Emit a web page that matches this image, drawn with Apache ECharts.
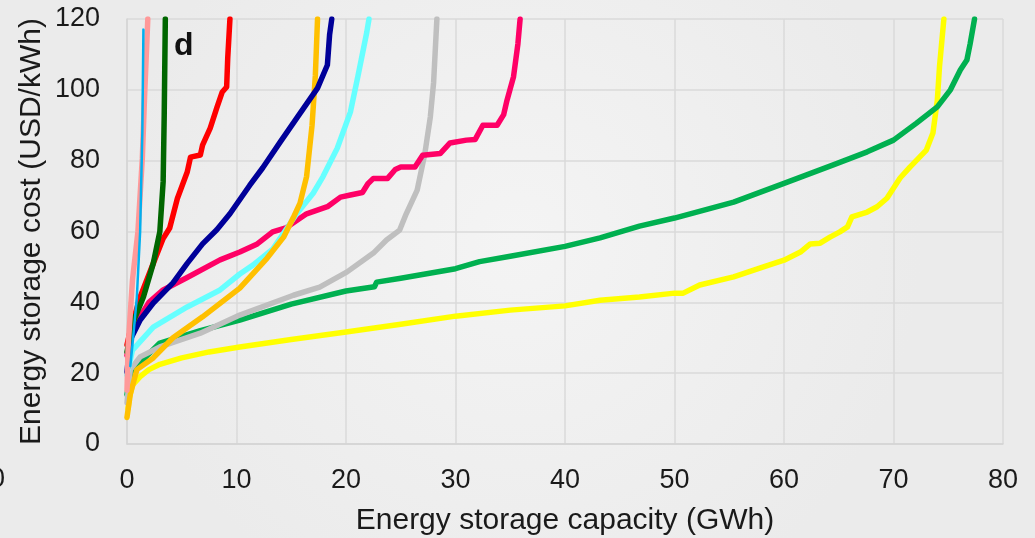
<!DOCTYPE html>
<html>
<head>
<meta charset="utf-8">
<script src="https://cdn.jsdelivr.net/npm/echarts@6/dist/echarts.min.js"></script>
<style>
  html, body { margin: 0; padding: 0; background: #f0f0f0; }
  #chart { width: 1035px; height: 538px; }
</style>
</head>
<body>
<div id="chart"></div>
<script>
// Cumulative storage supply curves: capacity (GWh) vs. cost (USD/kWh)
const xTicks = [0, 10, 20, 30, 40, 50, 60, 70, 80];
const yTicks = [0, 20, 40, 60, 80, 100, 120];

const lightBlue = [[0.3,22],[0.5,28],[0.9,41.5],[1.2,60],[1.4,88],[1.5,117]];
const pink = [[0,15.2],[0.1,27.4],[0.5,46.3],[1.0,60],[1.4,80.7],[1.6,97.7],[1.9,120]];
const darkGreen = [[0,26],[0.5,34],[1.5,41.5],[2.4,51],[3,60],[3.3,74],[3.4,93],[3.5,120]];
const red = [[0,28],[0.3,32],[1.2,41.5],[2.4,51],[3.3,58],[3.9,61],[4.6,69.3],[5.5,76.8],[5.8,81],
  [6.7,81.6],[6.9,84.4],[7.6,89.2],[8.2,94.9],[8.7,99.4],[9.1,100.8],[9.2,109],[9.4,120]];
const navy = [[0,20.3],[0.3,29.4],[1.2,35],[2.4,39.8],[4.2,45.5],[5.5,51],[6.9,56.5],[8.2,60.5],
  [9.4,65],[11.2,73],[12.4,78],[14,85.3],[15.5,92],[17.4,100.5],[18.3,107],[18.5,115.5],[18.7,120]];
const orange = [[0,7.5],[0.3,14],[0.9,21],[2.4,24.3],[4.2,30],[6.9,35.9],[10.3,44],[12.8,52.5],
  [14.3,58.4],[15.2,64],[15.8,68],[16.4,75.5],[16.9,90],[17.2,104],[17.4,120]];
const cyan = [[0,19.5],[0.5,26.5],[2.4,33],[5.5,38.7],[8.5,43.5],[10.3,48],[11.5,50.5],[13.3,55],
  [15.5,65],[17,70.8],[17.9,75.5],[19.2,83.5],[20.4,93.7],[21.1,104],[21.9,116.3],[22.1,120]];
const gray = [[0,11.6],[0.3,21],[1.2,24.6],[3,27.4],[6.7,31.3],[10.3,36.4],[15.2,42],[17.6,44.3],
  [20.1,48.6],[22.5,53.9],[23.7,57.6],[24.9,60.4],[25.5,65],[26.5,71.7],[27.2,82],[27.7,92.3],
  [28,102],[28.3,120]];
const crimson = [[0,25],[0.3,30],[1,35],[2,40],[3.3,43.5],[5.5,47],[8.5,52],[10.3,54.2],[11.9,56.5],
  [13.3,59.9],[14.5,61],[16.4,65],[18.3,67],[19.5,69.7],[20.4,70.3],[21.5,71],[22,73.5],[22.5,75],
  [23.8,75],[24.5,77.5],[25,78.2],[26.3,78.2],[27,81.5],[28.6,82],[29.5,85],[31,85.8],[31.8,86],
  [32.5,90],[33.8,90],[34.4,93],[34.7,97],[35.3,103.7],[35.7,113],[35.9,120]];
const green = [[0,14],[0.2,18],[0.5,21],[1.2,23],[3,28.5],[6.7,32],[10.3,35],[15,39.5],[20,43.2],
  [22.6,44.4],[22.8,45.7],[25,46.8],[30,49.5],[32.2,51.5],[35,53],[40,55.8],[43.2,58.2],[46.8,61.5],
  [50,63.8],[55.4,68.3],[60,73.6],[64.5,78.8],[67.6,82.5],[70,85.8],[72.1,90.6],[74,95.2],
  [75.2,100],[76.1,105.6],[76.7,108.4],[77,113],[77.4,120]];
const yellow = [[0.1,10],[0.2,13],[0.5,16.6],[1.2,19],[2,21],[3,22.5],[5,24.3],[7.5,26],[10.3,27.4],
  [15,29.5],[20,31.6],[25,33.8],[30,36.1],[35,37.8],[40,39],[43.2,40.6],[46.8,41.5],[50,42.6],
  [50.8,42.6],[52.3,44.9],[55.4,47.2],[58.4,50.3],[60,51.9],[61.5,54.2],[62.4,56.5],[63.3,56.7],
  [64.2,58.4],[65.1,59.9],[65.8,61.3],[66.2,64.1],[67.6,65.5],[68.5,67],[69.4,69.4],[70.6,75.1],
  [71.5,78.2],[73,83],[73.6,87.8],[74,97],[74.2,106.5],[74.6,120]];

const curves = [
  { data: yellow, color: '#ffff00', width: 5.5 },
  { data: green, color: '#00b050', width: 5.5 },
  { data: gray, color: '#bfbfbf', width: 5.5 },
  { data: crimson, color: '#ff0066', width: 5.5 },
  { data: cyan, color: '#66ffff', width: 5.5 },
  { data: orange, color: '#ffc000', width: 5.5 },
  { data: navy, color: '#000099', width: 5.5 },
  { data: red, color: '#ff0000', width: 5.5 },
  { data: darkGreen, color: '#006600', width: 5.5 },
  { data: pink, color: '#ff9999', width: 5.5 },
  { data: lightBlue, color: '#00b0f0', width: 2.5 }
];

const font = 'Liberation Sans, Arial, sans-serif';
const chart = echarts.init(document.getElementById('chart'), null, { renderer: 'canvas' });

chart.setOption({
  animation: false,
  backgroundColor: {
    type: 'radial', x: 0.5, y: 0.45, r: 0.75,
    colorStops: [{ offset: 0, color: '#f4f4f4' }, { offset: 1, color: '#ebebeb' }]
  },
  grid: { left: 127, right: 32, top: 19, bottom: 94, outerBoundsMode: 'none', containLabel: false },
  xAxis: {
    type: 'value', min: xTicks[0], max: xTicks[xTicks.length - 1], interval: 10,
    name: 'Energy storage capacity (GWh)', nameLocation: 'middle', nameGap: 62, nameMoveOverlap: false,
    nameTextStyle: { fontFamily: font, fontSize: 30, color: '#1a1a1a' },
    axisLine: { show: true, lineStyle: { color: '#d4d4d4', width: 1.5 } },
    axisTick: { show: false },
    axisLabel: { fontFamily: font, fontSize: 27, color: '#1a1a1a', margin: 23 },
    splitLine: { show: true, lineStyle: { color: '#dadada', width: 1.5 } }
  },
  yAxis: {
    type: 'value', min: yTicks[0], max: yTicks[yTicks.length - 1], interval: 20,
    name: 'Energy storage cost (USD/kWh)', nameLocation: 'middle', nameGap: 80, nameMoveOverlap: false,
    nameTextStyle: { fontFamily: font, fontSize: 30, color: '#1a1a1a' },
    axisLine: { show: true, lineStyle: { color: '#d4d4d4', width: 1.5 } },
    axisTick: { show: false },
    axisLabel: { fontFamily: font, fontSize: 27, color: '#1a1a1a', margin: 27 },
    splitLine: { show: true, lineStyle: { color: '#dadada', width: 1.5 } }
  },
  graphic: [
    { type: 'text', left: 174, top: 30,
      style: { text: 'd', font: 'bold 32px ' + font, fill: '#111' } },
    { type: 'text', left: -10, top: 466,
      style: { text: '0', font: '27px ' + font, fill: '#1a1a1a' } }
  ],
  series: curves.map(c => ({
    type: 'line',
    data: c.data,
    showSymbol: false,
    clip: true,
    lineStyle: { color: c.color, width: c.width, join: 'round', cap: 'round' },
    itemStyle: { color: c.color }
  }))
});
</script>
</body>
</html>
